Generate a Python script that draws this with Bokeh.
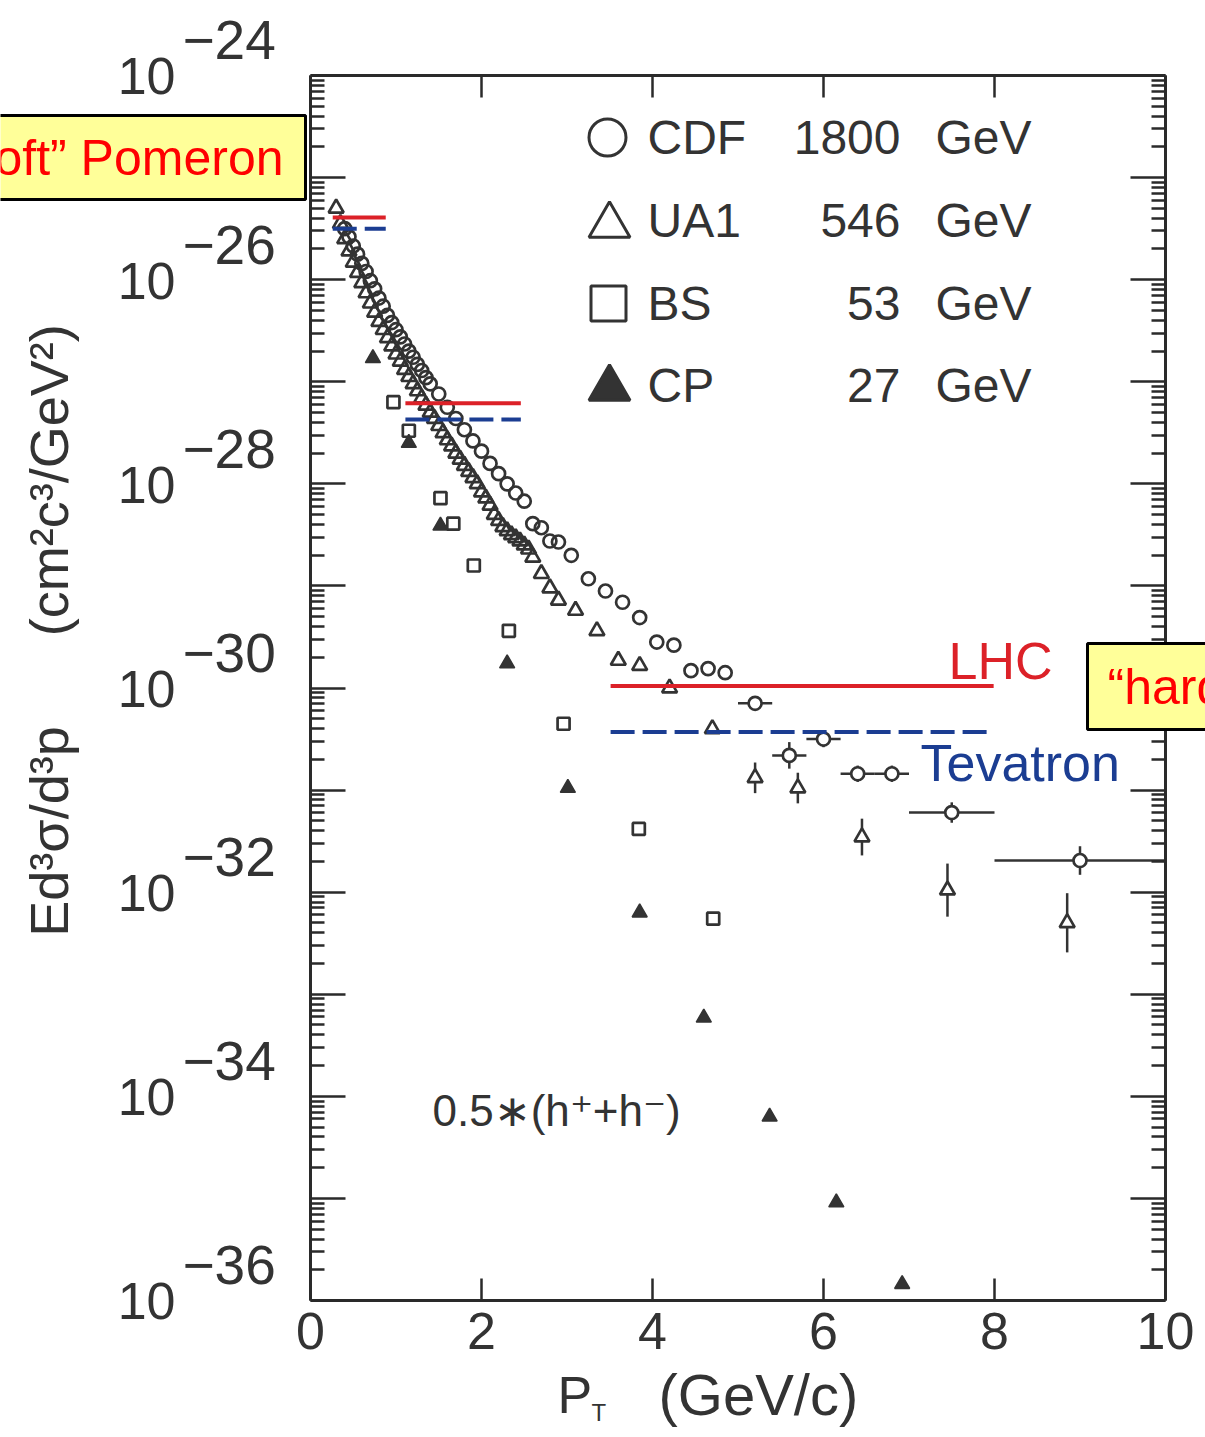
import math
from bokeh.plotting import figure
from bokeh.models import (Range1d, FixedTicker, LinearAxis, LogAxis, Label,
                          ColumnDataSource, CustomJSTickFormatter)
from bokeh.embed import file_html
from bokeh.resources import INLINE

# ---------------- data: pT (GeV/c) and log10(E d3sigma/d3p) ----------------
cdf = [(0.40, -25.50), (0.45, -25.58), (0.50, -25.67), (0.55, -25.75), (0.60, -25.84),
       (0.65, -25.92), (0.70, -26.01), (0.75, -26.09), (0.80, -26.18), (0.85, -26.26),
       (0.90, -26.35), (0.95, -26.42), (1.00, -26.49), (1.05, -26.56), (1.10, -26.63),
       (1.15, -26.70), (1.20, -26.76), (1.25, -26.83), (1.30, -26.89), (1.35, -26.96),
       (1.40, -27.02), (1.50, -27.12), (1.60, -27.25), (1.70, -27.36), (1.80, -27.47),
       (1.90, -27.58), (2.00, -27.68), (2.10, -27.80), (2.20, -27.90), (2.30, -28.00),
       (2.40, -28.09), (2.50, -28.17), (2.60, -28.39), (2.70, -28.43), (2.80, -28.56),
       (2.90, -28.57), (3.05, -28.70), (3.25, -28.93), (3.45, -29.05), (3.65, -29.16),
       (3.85, -29.31), (4.05, -29.55), (4.25, -29.58), (4.45, -29.83), (4.65, -29.81),
       (4.85, -29.85)]
cdf_pt = [a for a, b in cdf]
cdf_log = [b for a, b in cdf]

cdf_err_pt = [5.2, 5.6, 6.0, 6.4, 6.8, 7.5, 9.0]
cdf_err_log = [-30.15, -30.66, -30.50, -30.84, -30.84, -31.22, -31.69]
cdf_err_dx = [0.2, 0.2, 0.2, 0.2, 0.2, 0.5, 1.0]
cdf_err_dlog = [0.07, 0.13, 0.08, 0.08, 0.08, 0.10, 0.14]

ua1 = [(0.30, -25.30), (0.35, -25.45), (0.40, -25.60), (0.45, -25.72), (0.50, -25.83),
       (0.55, -25.93), (0.60, -26.03), (0.65, -26.13), (0.70, -26.23), (0.75, -26.32),
       (0.80, -26.41), (0.85, -26.49), (0.90, -26.57), (0.95, -26.65), (1.00, -26.73),
       (1.05, -26.80), (1.10, -26.88), (1.15, -26.95), (1.20, -27.02), (1.25, -27.09),
       (1.30, -27.16), (1.35, -27.23), (1.40, -27.30), (1.45, -27.36), (1.50, -27.43),
       (1.55, -27.50), (1.60, -27.57), (1.65, -27.63), (1.70, -27.70), (1.75, -27.76),
       (1.80, -27.82), (1.85, -27.88), (1.90, -27.94), (1.95, -28.00), (2.00, -28.08),
       (2.05, -28.14), (2.10, -28.21), (2.15, -28.30), (2.20, -28.36), (2.25, -28.42),
       (2.30, -28.46), (2.35, -28.50), (2.40, -28.53), (2.45, -28.56), (2.50, -28.60),
       (2.55, -28.64), (2.60, -28.72), (2.70, -28.88), (2.80, -29.02), (2.90, -29.14),
       (3.10, -29.24), (3.35, -29.44), (3.60, -29.73), (3.85, -29.78), (4.20, -30.00)]
ua1_pt = [a for a, b in ua1]
ua1_log = [b for a, b in ua1]

ua1_err_pt = [4.70, 5.20, 5.70, 6.45, 7.45, 8.85]
ua1_err_log = [-30.40, -30.88, -30.98, -31.46, -31.98, -32.30]
ua1_err_dlog = [0.05, 0.15, 0.15, 0.18, 0.26, 0.29]

bs_pt = [0.97, 1.15, 1.52, 1.67, 1.91, 2.32, 2.96, 3.84, 4.71]
bs_log = [-27.20, -27.48, -28.14, -28.39, -28.80, -29.44, -30.35, -31.38, -32.26]

cp_pt = [0.73, 1.15, 1.52, 2.30, 3.01, 3.85, 4.60, 5.37, 6.15, 6.92]
cp_log = [-26.77, -27.60, -28.41, -29.76, -30.98, -32.20, -33.23, -34.20, -35.04, -35.84]

lhc_x0 = [0.26, 1.11, 3.51]
lhc_x1 = [0.88, 2.46, 7.99]
lhc_log = [-25.39, -27.21, -29.98]
tev_log = [-25.50, -27.37, -30.43]

legend_names = ["CDF", "UA1", "BS", "CP"]
legend_energy = ["1800", "546", "53", "27"]
x_ticks = [0, 2, 4, 6, 8, 10]
y_label_exps = [-24, -26, -28, -30, -32, -34, -36]
X_MIN, X_MAX = 0.0, 10.0
Y_MIN, Y_MAX = 1e-36, 1e-24

# ---------------- page geometry ----------------
W, H = 1205, 1437
FL, FR, FT, FB = 310.0, 1165.0, 75.0, 1300.0      # chart box in page pixels
PX_PER_X = (FR - FL) / (X_MAX - X_MIN)
PX_PER_DEC = (FB - FT) / (math.log10(Y_MAX) - math.log10(Y_MIN))


def px_x(X):
    return X_MIN + (X - FL) / PX_PER_X


def px_y(Y):
    return 10.0 ** (math.log10(Y_MAX) - (Y - FT) / PX_PER_DEC)


def E(v):
    return [10.0 ** t for t in v]


FONT = "Liberation Sans"
INK = "#333333"
AX = "#2a2a2a"
RED = "#dc2128"
BLUE = "#1b3d92"
NBSP = "\u00a0"

# the plotting frame covers the whole page so that outer texts are not clipped;
# the chart box itself is drawn by the four axes pinned at the data limits
p = figure(width=W, height=H, x_range=Range1d(px_x(0), px_x(W)),
           y_range=Range1d(px_y(H), px_y(0)), y_axis_type="log",
           x_axis_location=None, y_axis_location=None,
           output_backend="svg", toolbar_location=None, min_border=0)
p.xgrid.visible = False
p.ygrid.visible = False
p.background_fill_color = "white"
p.border_fill_color = "white"
p.outline_line_color = None

xt = FixedTicker(ticks=x_ticks, minor_ticks=[])
yt = FixedTicker(ticks=[10.0 ** e for e in range(-36, -23)],
                 minor_ticks=[k * 10.0 ** e for e in range(-36, -24) for k in range(2, 10)])
blank = CustomJSTickFormatter(code="return ''")

common_x = dict(ticker=xt, bounds=(X_MIN, X_MAX), major_tick_in=22, major_tick_out=0,
                minor_tick_in=0, minor_tick_out=0, axis_line_width=3, axis_line_color=AX,
                major_tick_line_width=2.5, major_tick_line_color=AX)
common_y = dict(ticker=yt, bounds=(Y_MIN, Y_MAX), formatter=blank, major_tick_in=35,
                major_tick_out=0, minor_tick_in=14, minor_tick_out=0, axis_line_width=3,
                axis_line_color=AX, major_tick_line_width=2.5, minor_tick_line_width=2.5,
                major_tick_line_color=AX, minor_tick_line_color=AX)

bottom = LinearAxis(fixed_location=Y_MIN, major_label_text_font=FONT,
                    major_label_text_font_size="52px", major_label_text_color=INK,
                    major_label_standoff=12, **common_x)
p.add_layout(bottom, "below")
top = LinearAxis(fixed_location=Y_MAX, formatter=blank, **common_x)
p.add_layout(top, "above")
left = LogAxis(fixed_location=X_MIN, **common_y)
p.add_layout(left, "left")
right = LogAxis(fixed_location=X_MAX, **common_y)
p.add_layout(right, "right")


def lab(text, X, Yb, fs, color=INK, align="left", baseline="alphabetic", **kw):
    """Text at page pixel X with its baseline at page pixel Yb."""
    shift = 0.33 * fs if baseline == "alphabetic" else 0
    p.add_layout(Label(x=px_x(X), y=px_y(Yb - shift), text=text, text_font=FONT,
                       text_font_size=f"{fs}px", text_color=color, text_align=align,
                       text_baseline=baseline, **kw))


# ---------------- data marks ----------------
p.segment(x0=[x - d for x, d in zip(cdf_err_pt, cdf_err_dx)],
          x1=[x + d for x, d in zip(cdf_err_pt, cdf_err_dx)],
          y0=E(cdf_err_log), y1=E(cdf_err_log), line_color=INK, line_width=2.5)
p.segment(x0=cdf_err_pt, x1=cdf_err_pt,
          y0=E([v - d for v, d in zip(cdf_err_log, cdf_err_dlog)]),
          y1=E([v + d for v, d in zip(cdf_err_log, cdf_err_dlog)]),
          line_color=INK, line_width=2.5)
p.segment(x0=ua1_err_pt, x1=ua1_err_pt,
          y0=E([v - d for v, d in zip(ua1_err_log, ua1_err_dlog)]),
          y1=E([v + d for v, d in zip(ua1_err_log, ua1_err_dlog)]),
          line_color=INK, line_width=2.5)

p.scatter(ua1_pt, E(ua1_log), marker="triangle", size=15, fill_color=None,
          line_color=INK, line_width=2.7)
p.scatter(ua1_err_pt, E(ua1_err_log), marker="triangle", size=15, fill_color="white",
          line_color=INK, line_width=2.7)
p.scatter(cdf_pt, E(cdf_log), marker="circle", size=13, fill_color=None,
          line_color=INK, line_width=2.7)
p.scatter(cdf_err_pt, E(cdf_err_log), marker="circle", size=13, fill_color="white",
          line_color=INK, line_width=2.7)
p.scatter(bs_pt, E(bs_log), marker="square", size=12, fill_color=None,
          line_color=INK, line_width=2.7)
p.scatter(cp_pt, E(cp_log), marker="triangle", size=15, fill_color=INK,
          line_color=INK, line_width=1.5)

p.segment(x0=lhc_x0, x1=lhc_x1, y0=E(lhc_log), y1=E(lhc_log), line_color=RED, line_width=4)
p.segment(x0=lhc_x0, x1=lhc_x1, y0=E(tev_log), y1=E(tev_log), line_color=BLUE,
          line_width=4, line_dash="24 8")

# ---------------- legend (inside the chart box) ----------------
leg_rows_marker_y = [137, 225, 303, 388]
leg_rows_base_y = [153, 236, 319, 401]
leg_src = ColumnDataSource(dict(
    x=[px_x(607), px_x(609), px_x(608), px_x(609)],
    y=[px_y(v) for v in leg_rows_marker_y],
    marker=["circle", "triangle", "square", "triangle"],
    size=[37, 41, 35, 41],
    fill=["white", "white", "white", INK],
))
p.scatter(x="x", y="y", marker="marker", size="size", fill_color="fill",
          line_color=INK, line_width=3, source=leg_src)
for name, en, by in zip(legend_names, legend_energy, leg_rows_base_y):
    lab(name, 647, by, 48)
    lab(en, 900, by, 48, align="right")
    lab("GeV", 935, by, 48)

lab("0.5\u2217(h\u207a+h\u207b)", 432, 1125, 44)
lab("LHC", 1052, 678, 52, color=RED, align="right")
lab("Tevatron", 920, 780, 52, color=BLUE)

# ---------------- y tick labels 10^-n ----------------
for e in y_label_exps:
    ty = FT + (math.log10(Y_MAX) - e) * PX_PER_DEC
    lab("10", 175, ty + 18, 52, align="right")
    lab("\u2212" + str(-e), 182, ty - 17, 55)

# ---------------- axis titles ----------------
lab("P", 557, 1412, 52)
lab("T", 591, 1420, 24)
lab("(GeV/c)", 658, 1413, 58)
p.add_layout(Label(x=px_x(48), y=px_y(630),
                   text="Ed\u00b3\u03c3/d\u00b3p" + NBSP * 6 + "(cm\u00b2c\u00b3/GeV\u00b2)",
                   text_font=FONT, text_font_size="54px", text_color=INK, angle=math.pi / 2,
                   text_align="center", text_baseline="middle"))

# ---------------- callout boxes ----------------
lab("\u201csoft\u201d Pomeron", 305, 157, 50, color="#ff0000", align="right", baseline="middle",
    background_fill_color="#ffff99", border_line_color="black", border_line_width=3,
    padding=dict(left=20, right=22, top=14, bottom=14))
lab("\u201chard\u201d Pomeron", 1087, 686, 50, color="#ff0000", align="left", baseline="middle",
    background_fill_color="#ffff99", border_line_color="black", border_line_width=3,
    padding=dict(left=20, right=20, top=15, bottom=15))

open("out.html", "w").write(file_html(p, INLINE))
